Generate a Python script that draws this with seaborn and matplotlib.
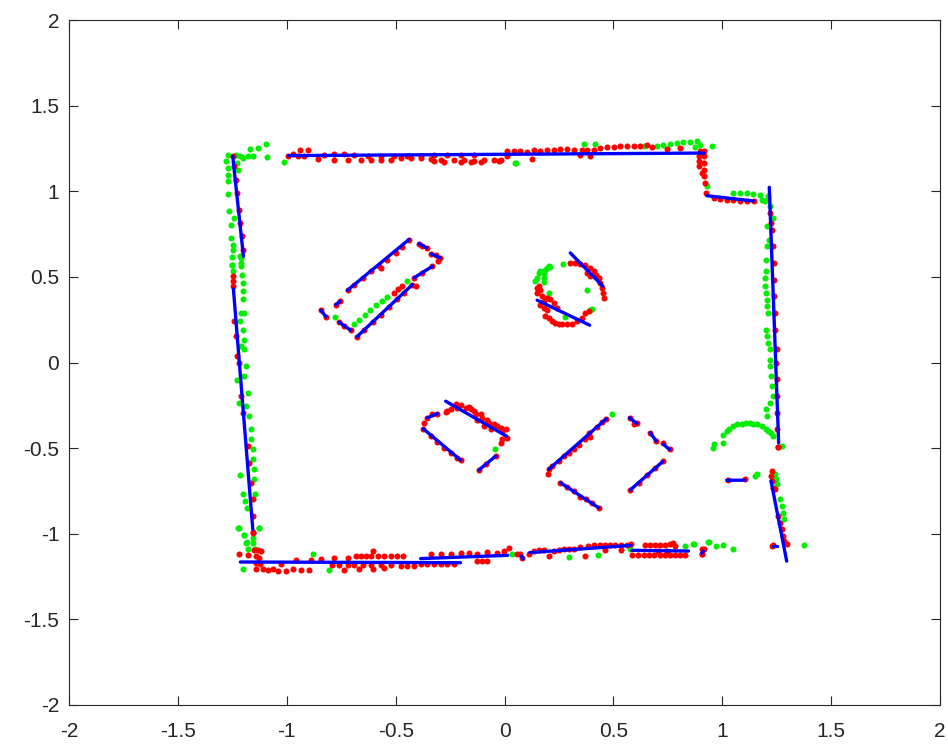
import matplotlib
matplotlib.use("Agg")
import matplotlib.pyplot as plt
import seaborn as sns
import pandas as pd

# ---------------- data ----------------
green_x = [-1.271, -1.279, -1.271, -1.268, -1.268, -1.268, -1.266, -1.243, -1.256, -1.256,
           -1.248, -1.248, -1.253, -1.253, -1.233, -1.213, -1.202, -1.179, -1.156, -1.167,
           -1.133, -1.095, -1.091, -1.014, -1.228, -1.225, -1.213, -1.210, 0.051,
           -1.251, -1.248, -1.210, -1.210, -1.207, -1.202, -1.202, -1.202, -1.210, -1.195,
           -1.213, -1.202, -1.198, -1.210, -1.195, -1.187, -1.228, -1.195, -1.179, -1.218,
           -1.187, -1.172, -1.164, -1.164, -1.156, -1.156, -1.149, -1.213, -1.149, -1.199,
           -1.192, -1.184, -1.144, -1.221, -1.195, -1.126, -1.182,
           -1.222, -1.195, -1.157, -1.187, -1.157, -1.146, -1.179, -1.126, -1.202, -0.881,
           -0.808, 0.035,
           0.295, 0.428, 0.578, 0.830, 0.865, 0.937, 0.972, 1.005, 1.048, 1.375,
           0.364, 0.417, 0.050, 0.639, 0.700, 0.730, 0.761, 0.792, 0.822, 0.853,
           0.883, 0.898, 0.876, 0.952, 0.929, 1.051, 1.082, 1.112, 1.143, 1.174,
           1.181, 1.204,
           1.196, 1.212, 1.219, 1.234, 1.207, 1.216, 1.204, 1.201, 1.201, 1.196,
           1.198, 1.201, 1.204, 1.204, 1.212, 1.201, 1.207, 1.212, 1.219, 1.219,
           1.219, 1.222, 1.227, 1.231, 1.219, 1.201, 1.207, 1.231,
           0.959, 0.963, 1.002, 1.002, 1.021, 1.033, 1.051, 1.066, 1.089, 1.109,
           1.128, 1.143, 1.161, 1.181, 1.201, 1.212, 1.222, 1.273,
           1.150, 1.158, 1.242, 1.247, 1.250, 1.265, 1.273, 1.280, 1.283, 0.868,
           0.936,
           -0.779, -0.693, -0.667, -0.642, -0.616, -0.590, -0.564, -0.539, -0.446,
           0.142, 0.150, 0.157, 0.165, 0.180, 0.188, 0.196, 0.203, 0.211, 0.183,
           0.180, 0.269, 0.203, 0.379, 0.402, 0.394, 0.280,
           -0.044, 0.494]
green_y = [1.213, 1.175, 1.136, 1.097, 1.058, 0.986, 0.883, 0.844, 0.805, 0.727,
           0.688, 0.659, 0.614, 0.572, 1.213, 1.208, 1.194, 1.208, 1.208, 1.249,
           1.252, 1.276, 1.198, 1.169, 1.165, 1.126, 0.620, 0.581, 1.165,
           0.572, 0.533, 0.611, 0.562, 0.513, 0.465, 0.416, 0.368, 0.290, 0.290,
           0.241, 0.192, 0.134, 0.095, 0.076, -0.021, -0.105, -0.080, -0.177, -0.239,
           -0.255, -0.313, -0.391, -0.449, -0.508, -0.566, -0.624, -0.655, -0.683, -0.770,
           -0.809, -0.848, -0.770, -0.965, -1.007, -0.965, -1.048,
           -0.965, -1.007, -1.023, -1.052, -1.056, -1.087, -1.091, -0.965, -1.204, -1.116,
           -1.214, -1.116,
           -1.134, -1.126, -1.091, -1.072, -1.062, -1.046, -1.072, -1.068, -1.087, -1.068,
           1.278, 1.276, 1.165, 1.262, 1.266, 1.272, 1.278, 1.282, 1.285, 1.289,
           1.291, 1.272, 1.258, 1.262, 1.029, 0.990, 0.990, 0.990, 0.986, 0.980,
           0.947, 0.947,
           0.945, 0.970, 0.912, 0.844, 0.795, 0.718, 0.679, 0.601, 0.533, 0.494,
           0.445, 0.406, 0.367, 0.329, 0.290, 0.192, 0.154, 0.115, 0.076, 0.017,
           -0.021, -0.080, -0.138, -0.197, -0.235, -0.274, -0.313, -0.430,
           -0.498, -0.473, -0.469, -0.426, -0.401, -0.387, -0.372, -0.362, -0.362, -0.356,
           -0.352, -0.358, -0.362, -0.372, -0.387, -0.401, -0.410, -0.488,
           -0.663, -0.654, -0.654, -0.683, -0.712, -0.799, -0.838, -0.877, -0.916, -1.062,
           -1.046,
           0.264, 0.222, 0.251, 0.280, 0.307, 0.333, 0.358, 0.381, 0.478,
           0.474, 0.494, 0.523, 0.533, 0.523, 0.543, 0.552, 0.562, 0.558, 0.494,
           0.469, 0.578, 0.403, 0.422, 0.315, 0.305, 0.266,
           -0.508, -0.303]

red_x = [-0.993, -0.973, -0.950, -0.938, -0.901, -0.920, -0.858, -0.828, -0.782, -0.721,
         -0.660, -0.614, -0.568, -0.522, -0.476, -0.431, -0.385, -0.339, -0.293, -0.232,
         -0.186, -0.140, -0.094, -0.049, -0.026, 0.013, -0.782, -0.736, -0.690, -0.629,
         -0.568, -0.507, -0.446, -0.385, -0.324, -0.263, -0.201, -0.140, -0.324, -0.278,
         -0.201, -0.156, -0.110,
         -0.018, 0.012, 0.043, 0.073, 0.104, 0.127, 0.135, 0.165, 0.196, 0.226,
         0.257, 0.287, 0.318, 0.348, 0.356, 0.379, 0.394, 0.410, 0.440, 0.471,
         0.501, 0.532, 0.562, 0.593, 0.623, 0.654, 0.677, 0.746, 0.807, 0.899,
         0.917, 0.895, 0.895, 0.895, 0.917, 0.917, 0.917, 0.906, 0.917, 0.921,
         0.926, 0.960, 0.990, 1.021, 1.051, 1.082, 1.112, 1.146,
         1.219, 1.222, 1.227, 1.234, 1.237, 1.237, 1.237, 1.241, 1.242, 1.250,
         1.247, 1.250, 1.253, 1.253, 1.253, 1.257,
         -1.248, -1.240, -1.233, -1.228, -1.218, -1.213, -1.207, -1.202,
         -1.248, -1.248, -1.245, -1.240, -1.233, -1.228, -1.218, -1.210, -1.202, -1.179,
         -1.172, -1.164, -1.156, -1.153, -1.156,
         -1.149, -1.133, -1.118, -1.141, -1.126, -1.141, -1.121, -1.141, -1.157, -1.218,
         -1.179, -1.111, -1.088, -1.065, -1.042, -1.004, -0.973, -0.935, -0.897, -1.027,
         -0.958, -0.889, -0.843, -0.782, -0.721, -0.683, -0.660, -0.637, -0.614, -0.602,
         -0.583, -0.553, -0.522, -0.492, -0.464, -0.790, -0.759, -0.736, -0.721, -0.690,
         -0.667, -0.652, -0.614, -0.606, -0.568, -0.553, -0.522, -0.477, -0.446, -0.415,
         -0.385, -0.354, -0.324, -0.293, -0.263, -0.232, -0.339, -0.293, -0.247, -0.202,
         -0.163, -0.125, -0.079, -0.033, 0.020, -0.125, -0.102, -0.079, 0.058,
         -0.003, 0.073, 0.081, 0.112, 0.135, 0.157, 0.180, 0.203, 0.226, 0.249,
         0.272, 0.295, 0.318, 0.345, 0.371, 0.382, 0.410, 0.437, 0.463, 0.463,
         0.486, 0.509, 0.535, 0.535, 0.562, 0.582, 0.585, 0.611, 0.639, 0.662,
         0.688, 0.712, 0.738, 0.761, 0.784, 0.807, 0.830, 0.646, 0.669, 0.692,
         0.715, 0.738, 0.761, 0.776, 0.784, 0.707, 0.746, 0.906, 0.906, 1.235,
         1.296,
         1.227, 1.224, 1.227, 1.235, 1.242, 1.257, 1.265, 1.273, 1.277, 1.283,
         1.230, 0.914, 0.906, 1.028, 1.105, 1.257,
         -0.721, -0.690, -0.652, -0.614, -0.576, -0.568, -0.538, -0.499, -0.469, -0.438,
         -0.392, -0.357, -0.377, -0.336, -0.296, -0.305, -0.316, -0.415, -0.331, -0.377,
         -0.408, -0.423, -0.678, -0.645, -0.606, -0.568, -0.530, -0.492, -0.461, -0.507,
         -0.490, -0.470, -0.759, -0.736, -0.706, -0.843, -0.820, -0.775, -0.755,
         0.303, 0.325, 0.348, 0.371, 0.394, 0.409, 0.422, 0.432, 0.440, 0.448,
         0.452, 0.455, 0.394, 0.379, 0.150, 0.147, 0.157, 0.165, 0.173, 0.180,
         0.165, 0.180, 0.196, 0.188, 0.203, 0.219, 0.234, 0.249, 0.264, 0.287,
         0.310, 0.333, 0.356, 0.371, 0.387, 0.226, 0.211, 0.196, 0.241,
         -0.263, -0.247, -0.270, -0.224, -0.202, -0.179, -0.163, -0.156, -0.140, -0.133,
         -0.110, -0.102, -0.079, -0.072, -0.049, -0.033, -0.018, -0.011, 0.009, 0.012,
         -0.011, -0.018, -0.095, -0.064, -0.217, -0.125,
         -0.373, -0.370, -0.354, -0.331, -0.308, -0.339, -0.308, -0.278, -0.247, -0.217,
         -0.202, -0.118, -0.087, -0.041,
         0.199, 0.203, 0.218, 0.249, 0.272, 0.295, 0.318, 0.341, 0.371, 0.391,
         0.387, 0.425, 0.448, 0.468, 0.257, 0.287, 0.318, 0.348, 0.376, 0.402,
         0.432, 0.575, 0.596, 0.608, 0.669, 0.697, 0.730, 0.758, 0.578, 0.616,
         0.654, 0.692, 0.727]
red_y = [1.208, 1.219, 1.204, 1.239, 1.243, 1.204, 1.188, 1.214, 1.184, 1.184,
         1.184, 1.184, 1.184, 1.184, 1.194, 1.194, 1.194, 1.188, 1.180, 1.180,
         1.184, 1.175, 1.180, 1.184, 1.175, 1.204, 1.217, 1.217, 1.214, 1.208,
         1.208, 1.208, 1.208, 1.208, 1.214, 1.214, 1.214, 1.214, 1.175, 1.171,
         1.171, 1.171, 1.171,
         1.184, 1.233, 1.233, 1.233, 1.227, 1.188, 1.239, 1.233, 1.243, 1.239,
         1.247, 1.247, 1.243, 1.214, 1.243, 1.239, 1.208, 1.243, 1.252, 1.258,
         1.258, 1.262, 1.262, 1.266, 1.266, 1.268, 1.258, 1.247, 1.252, 1.233,
         1.233, 1.204, 1.175, 1.145, 1.204, 1.165, 1.126, 1.107, 1.087, 1.048,
         0.990, 0.961, 0.957, 0.951, 0.947, 0.945, 0.943, 0.943,
         0.873, 0.815, 0.776, 0.679, 0.581, 0.484, 0.387, 0.290, 0.192, 0.076,
         -0.002, -0.099, -0.197, -0.294, -0.391, -0.492,
         1.204, 1.145, 1.068, 0.990, 0.893, 0.815, 0.737, 0.659,
         0.504, 0.475, 0.445, 0.241, 0.154, 0.037, -0.002, -0.197, -0.294, -0.488,
         -0.585, -0.702, -0.799, -0.897, -0.990,
         -1.095, -1.095, -1.101, -1.130, -1.140, -1.169, -1.179, -1.208, -0.994, -1.120,
         -1.126, -1.208, -1.212, -1.208, -1.217, -1.217, -1.208, -1.212, -1.214, -1.179,
         -1.155, -1.153, -1.145, -1.144, -1.140, -1.130, -1.130, -1.130, -1.130, -1.101,
         -1.130, -1.130, -1.130, -1.130, -1.130, -1.182, -1.182, -1.212, -1.182, -1.182,
         -1.208, -1.182, -1.182, -1.204, -1.182, -1.198, -1.182, -1.188, -1.188, -1.188,
         -1.179, -1.179, -1.179, -1.179, -1.179, -1.179, -1.120, -1.120, -1.116, -1.114,
         -1.114, -1.116, -1.107, -1.111, -1.081, -1.159, -1.159, -1.159, -1.120,
         -1.101, -1.116, -1.140, -1.116, -1.101, -1.097, -1.097, -1.130, -1.101, -1.095,
         -1.091, -1.091, -1.087, -1.077, -1.130, -1.072, -1.068, -1.068, -1.068, -1.095,
         -1.068, -1.068, -1.068, -1.095, -1.066, -1.058, -1.124, -1.124, -1.124, -1.124,
         -1.124, -1.124, -1.124, -1.124, -1.124, -1.124, -1.124, -1.066, -1.066, -1.066,
         -1.066, -1.066, -1.062, -1.052, -1.072, -1.101, -1.101, -1.091, -1.120, -1.068,
         -1.062,
         -0.634, -0.663, -0.692, -0.731, -0.741, -0.897, -0.936, -0.974, -1.013, -1.043,
         -1.072, -1.087, -1.120, -0.688, -0.683, -0.492,
         0.422, 0.455, 0.494, 0.533, 0.562, 0.552, 0.601, 0.640, 0.675, 0.718,
         0.694, 0.669, 0.683, 0.634, 0.611, 0.591, 0.630, 0.494, 0.562, 0.523,
         0.445, 0.455, 0.150, 0.192, 0.235, 0.280, 0.325, 0.368, 0.406, 0.403,
         0.428, 0.449, 0.235, 0.212, 0.188, 0.305, 0.266, 0.338, 0.358,
         0.581, 0.581, 0.578, 0.572, 0.552, 0.533, 0.513, 0.494, 0.465, 0.436,
         0.406, 0.377, 0.504, 0.523, 0.406, 0.435, 0.445, 0.426, 0.387, 0.358,
         0.338, 0.319, 0.309, 0.270, 0.261, 0.241, 0.231, 0.225, 0.222, 0.222,
         0.225, 0.241, 0.261, 0.290, 0.299, 0.348, 0.368, 0.377, 0.319,
         -0.284, -0.270, -0.290, -0.245, -0.251, -0.265, -0.259, -0.274, -0.284, -0.303,
         -0.303, -0.323, -0.333, -0.352, -0.362, -0.371, -0.381, -0.401, -0.391, -0.440,
         -0.449, -0.469, -0.371, -0.391, -0.265, -0.333,
         -0.387, -0.356, -0.323, -0.303, -0.298, -0.430, -0.465, -0.498, -0.527, -0.556,
         -0.570, -0.628, -0.595, -0.547,
         -0.653, -0.624, -0.605, -0.576, -0.547, -0.527, -0.504, -0.484, -0.449, -0.434,
         -0.410, -0.375, -0.348, -0.329, -0.702, -0.725, -0.751, -0.786, -0.796, -0.823,
         -0.848, -0.323, -0.362, -0.356, -0.410, -0.459, -0.469, -0.508, -0.745, -0.702,
         -0.659, -0.615, -0.578]

# fitted line segments (start / end)
seg_x0 = [-1.248, -0.993, 0.929, 1.216, -1.245, -0.721, -0.393, -0.336, -0.416, -0.678,
          -0.759, -0.843, -0.775, 0.302, 0.150, -0.270, -0.373, -0.354, -0.118, 0.203,
          0.257, 0.577, 0.574, 0.669, 0.730, 1.021, 1.224, 1.234, 0.906, -1.213,
          -0.385, 0.116, 0.585, 0.076]
seg_y0 = [1.204, 1.208, 0.974, 1.023, 0.430, 0.422, 0.694, 0.634, 0.494, 0.150,
          0.235, 0.305, 0.338, 0.640, 0.364, -0.226, -0.387, -0.323, -0.628, -0.624,
          -0.702, -0.745, -0.323, -0.410, -0.478, -0.688, -0.692, -1.072, -1.114, -1.165,
          -1.145, -1.110, -1.097, -1.130]
seg_x1 = [-1.199, 0.917, 1.143, 1.259, -1.156, -0.439, -0.357, -0.296, -0.331, -0.423,
          -0.706, -0.820, -0.755, 0.452, 0.391, 0.009, -0.202, -0.308, -0.041, 0.467,
          0.432, 0.727, 0.608, 0.697, 0.758, 1.104, 1.296, 1.253, 0.913, -0.202,
          0.015, 0.581, 0.845, 0.086]
seg_y1 = [0.620, 1.223, 0.943, -0.469, -0.974, 0.718, 0.669, 0.611, 0.562, 0.455,
          0.188, 0.267, 0.358, 0.445, 0.218, -0.430, -0.570, -0.298, -0.547, -0.329,
          -0.848, -0.578, -0.356, -0.459, -0.508, -0.687, -1.160, -1.072, -1.101, -1.169,
          -1.126, -1.068, -1.101, -1.146]

tick_vals = [-2, -1.5, -1, -0.5, 0, 0.5, 1, 1.5, 2]
tick_labels = ["-2", "-1.5", "-1", "-0.5", "0", "0.5", "1", "1.5", "2"]

# ---------------- plotting ----------------
sns.set_theme(style="white")
plt.rcParams['font.family'] = ['Liberation Sans', 'DejaVu Sans']

fig = plt.figure(figsize=(9.48, 7.5), dpi=100)
ax = fig.add_axes([69 / 948, 45 / 750, 871 / 948, 685 / 750])

sns.scatterplot(x=green_x, y=green_y, color="#00ee00", s=19, linewidth=0, ax=ax, zorder=2)
sns.scatterplot(x=red_x, y=red_y, color="#ff0000", s=19, linewidth=0, ax=ax, zorder=3)

seg_rows = []
for i in range(len(seg_x0)):
    seg_rows.append({"seg": i, "x": seg_x0[i], "y": seg_y0[i]})
    seg_rows.append({"seg": i, "x": seg_x1[i], "y": seg_y1[i]})
seg_df = pd.DataFrame(seg_rows)
sns.lineplot(data=seg_df, x="x", y="y", units="seg", estimator=None, sort=False,
             color="#0000ff", linewidth=2.4, ax=ax, zorder=4, legend=False)

ax.set_xlim(-2, 2)
ax.set_ylim(-2, 2)
ax.set_xticks(tick_vals)
ax.set_xticklabels(tick_labels)
ax.set_yticks(tick_vals)
ax.set_yticklabels(tick_labels)
ax.set_xlabel("")
ax.set_ylabel("")

edge = "#262626"
for sp in ax.spines.values():
    sp.set_visible(True)
    sp.set_color(edge)
    sp.set_linewidth(0.8)
ax.tick_params(axis="both", which="both", direction="in", length=6.5, width=0.8,
               colors=edge, labelsize=15, top=True, right=True,
               bottom=True, left=True)
ax.tick_params(axis="x", pad=12)
ax.tick_params(axis="y", pad=7)
for lab in ax.get_xticklabels() + ax.get_yticklabels():
    lab.set_color(edge)

fig.savefig("out.png", dpi=100, facecolor="white")
